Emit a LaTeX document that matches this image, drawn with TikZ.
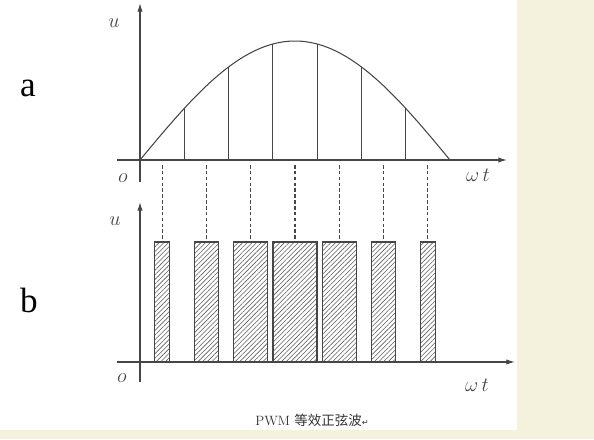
\documentclass[tikz,border=0pt]{standalone}
\usepackage{fontspec}
\usepackage{tikz}
\usetikzlibrary{arrows.meta,patterns.meta}
\newfontfamily\cjk{Noto Sans CJK SC}
\newfontfamily\dejavu{DejaVu Sans}
\newfontfamily\timesrm{Liberation Serif}
\definecolor{axisgray}{HTML}{464646}
\definecolor{hatchgray}{HTML}{5E5E5E}
\definecolor{slidebg}{HTML}{F4F2DC}

\begin{document}
\begin{tikzpicture}[x=0.03cm,y=0.03cm,font=\fontsize{19}{21}\selectfont]
    \fill[slidebg](0,0)rectangle(594,439);
    \fill[white](0,9)rectangle(517,439);
    \useasboundingbox(0,0)rectangle(594,439);
    % upper graph: sine and its samples
    \draw[axisgray,line width=1pt,-{Latex[length=2.6mm,width=1.6mm]}](117,279)--(507,279);
    \draw[axisgray,line width=1pt,-{Latex[length=2.6mm,width=1.6mm]}](140,257)--(140,436);
    \draw[axisgray,line width=0.9pt,domain=0:180,samples=72]plot({140+1.72222*\x},{279+119*sin(\x)});
    \foreach \k in {1,...,6}\draw[axisgray,line width=1pt]({140+310*\k/7},279)--({140+310*\k/7},{279+119*sin(180*\k/7)});
    \foreach \k in {0,...,6}\draw[axisgray,line width=1pt,dash pattern=on 3pt off 2pt]({140+310*(\k+0.5)/7},274)--({140+310*(\k+0.5)/7},197);
    % lower graph: pulses
    \draw[axisgray,line width=1pt,-{Latex[length=2.6mm,width=1.6mm]}](117,77)--(515,77);
    \draw[axisgray,line width=1pt,-{Latex[length=2.6mm,width=1.6mm]}](140,57)--(140,237);
    \foreach \k/\w in {0/15,1/24,2/34,3/44,4/34,5/24,6/15}
      \draw[axisgray,line width=1pt,pattern={Lines[angle=45,distance=2.8pt,line width=0.5pt]},pattern color=hatchgray]
        ({140+310*(\k+0.5)/7-\w/2},77)rectangle({140+310*(\k+0.5)/7+\w/2},197);
    % labels
    \node[font=\timesrm\fontsize{30}{32}\selectfont](laba)at(28,351){a};
    \node[font=\timesrm\fontsize{30}{32}\selectfont](labb)at(29,139){b};
    \node[axisgray](ua)at(114,416){$u$};
    \node[axisgray](oa)at(123,261){$o$};
    \node[axisgray](wta)at(478,264){$\omega\,t$};
    \node[axisgray](ub)at(115,218){$u$};
    \node[axisgray](ob)at(122,61){$o$};
    \node[axisgray](wtb)at(477,54){$\omega\,t$};
    \node[black!80](cap)at(312,19){\fontsize{11.5}{13}\selectfont PWM \cjk 等效正弦波{\dejavu\fontsize{7}{8}\selectfont ↵}};
\end{tikzpicture}
\end{document}
